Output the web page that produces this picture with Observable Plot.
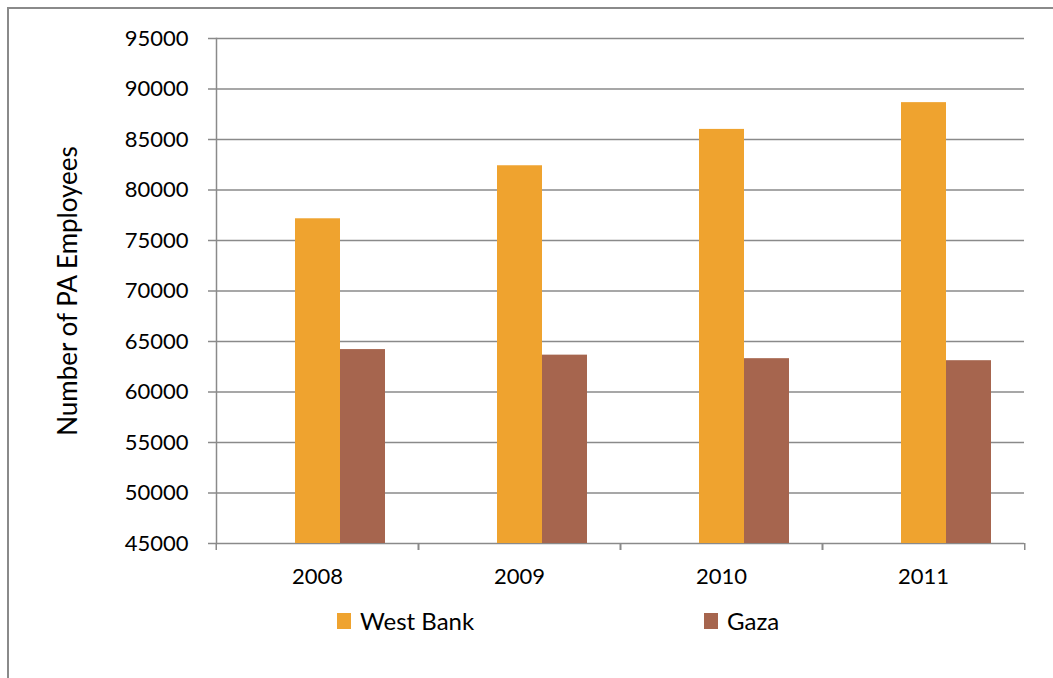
<!DOCTYPE html>
<html><head><meta charset="utf-8">
<script src="https://cdn.jsdelivr.net/npm/d3@7"></script>
<script src="https://cdn.jsdelivr.net/npm/@observablehq/plot@0.6"></script>
<style>
html,body{margin:0;padding:0;background:#fff;}
body{width:1053px;height:678px;position:relative;overflow:hidden;font-family:Lato,sans-serif;}
#frame{position:absolute;left:7px;top:7px;width:1046px;height:671px;border-top:2px solid #8a8a8a;border-left:2px solid #8a8a8a;box-sizing:border-box;}
#chart{position:absolute;left:0;top:0;}
#legend{position:absolute;left:337px;top:606px;display:flex;}
.item{display:flex;align-items:center;width:367px;font-size:24px;color:#000;}
.sw{width:14px;height:16px;margin-right:9px;}
</style></head><body>
<div id="frame"></div>
<div id="chart"></div>
<div id="legend"></div>
<script>
const years = ["2008", "2009", "2010", "2011"];
const seriesNames = ["West Bank", "Gaza"];
const westBank = [77150, 82400, 86000, 88650];
const gaza = [64200, 63650, 63300, 63100];
const seriesColors = ["#EFA32F", "#A6654E"];
const yTicks = [45000, 50000, 55000, 60000, 65000, 70000, 75000, 80000, 85000, 90000, 95000];
const yLabel = "Number of PA Employees";

const table = years.flatMap((year, i) => [
  {year, series: seriesNames[0], value: westBank[i]},
  {year, series: seriesNames[1], value: gaza[i]}
]);

const W = 1053, H = 600, mL = 215, mR = 28, mT = 38, mB = 57;
const bandW = (W - mL - mR) / years.length;
const grid = "#8a8a8a";

const plot = Plot.plot({
  width: W, height: H,
  marginLeft: mL, marginRight: mR, marginTop: mT, marginBottom: mB,
  style: {fontFamily: "Lato, sans-serif", fontSize: "22px", color: "#000", background: "transparent", overflow: "visible"},
  fx: {domain: years, padding: 0, label: null},
  x: {domain: [" ", ...seriesNames], paddingInner: 0, paddingOuter: 0.725, axis: null},
  y: {domain: [yTicks[0], yTicks[yTicks.length - 1]]},
  color: {domain: seriesNames, range: seriesColors},
  marks: [
    Plot.gridY(yTicks, {stroke: grid, strokeOpacity: 1, strokeWidth: 1.5}),
    Plot.barY(table, {fx: "year", x: "series", y1: yTicks[0], y2: "value", fill: "series"}),
    Plot.frame({anchor: "left", fx: years[0], stroke: grid, strokeWidth: 1.5}),
    Plot.axisY(yTicks, {tickSize: 8, tickPadding: 20, stroke: grid, strokeWidth: 1.5, color: "#000",
      tickFormat: d => String(d), label: null}),
    Plot.axisY(yTicks, {tickSize: 0, tickFormat: () => "", color: "#000", fontSize: 26,
      label: yLabel, labelAnchor: "center", labelOffset: 158, labelArrow: "none"}),
    Plot.axisFx({anchor: "bottom", tickSize: 0, tickPadding: 25, label: null, color: "#000"}),
    Plot.axisFx({anchor: "bottom", tickSize: 7, stroke: grid, strokeWidth: 1.5, tickFormat: () => "", label: null, dx: -bandW / 2}),
    Plot.axisFx({anchor: "bottom", tickSize: 7, stroke: grid, strokeWidth: 1.5, tickFormat: () => "", label: null, dx: bandW / 2})
  ]
});
document.getElementById("chart").appendChild(plot);

const legend = document.getElementById("legend");
seriesNames.forEach((name, i) => {
  const item = document.createElement("div");
  item.className = "item";
  const sw = document.createElement("span");
  sw.className = "sw";
  sw.style.background = seriesColors[i];
  const t = document.createElement("span");
  t.textContent = name;
  item.appendChild(sw); item.appendChild(t);
  legend.appendChild(item);
});
</script>
</body></html>
